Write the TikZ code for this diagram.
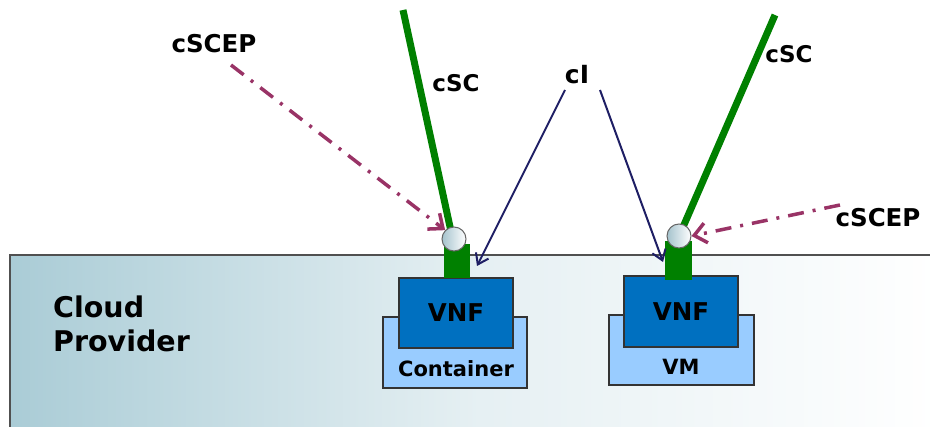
\documentclass[tikz,border=0pt]{standalone}
\usepackage{fontspec}
\setmainfont{DejaVu Sans}
\usetikzlibrary{arrows.meta}
\definecolor{vnfblue}{RGB}{0,112,192}
\definecolor{hostblue}{RGB}{153,204,255}
\definecolor{scgreen}{RGB}{0,128,0}
\definecolor{scepred}{RGB}{153,51,102}
\definecolor{cinavy}{RGB}{30,30,100}
\definecolor{cloudleft}{RGB}{170,204,214}
\definecolor{framegray}{RGB}{80,80,80}
\definecolor{balldark}{RGB}{165,195,205}
\begin{document}
\begin{tikzpicture}[x=1pt,y=-1pt,
	lbl/.style={font=\bfseries\fontsize{23}{27}\selectfont},
	hostbox/.style={draw=black!80, line width=1.2pt, fill=hostblue},
	vnfbox/.style={draw=black!80, line width=1.2pt, fill=vnfblue,
		font=\bfseries\fontsize{24.5}{28}\selectfont},
	green port/.style={fill=scgreen, inner sep=0pt},
	ball/.style={circle, draw=black!60, line width=1pt, inner sep=0pt,
		minimum size=24pt, left color=balldark, right color=white},
	sclink/.style={scgreen, line width=7pt},
	sceplink/.style={scepred, line width=3.5pt,
		dash pattern=on 16pt off 9pt on 3pt off 9pt,
		-{Straight Barb[length=12pt,width=20pt,line width=3.5pt]}},
	cilink/.style={cinavy, line width=2pt,
		-{Straight Barb[length=10pt,width=14pt,line width=2pt]}}]
	\useasboundingbox (0,0) rectangle (930,427);

	% Cloud provider
	\path[left color=cloudleft, right color=white, middle color=cloudleft!30]
		(10,255) rectangle (940,440);
	\draw[framegray, line width=2.5pt] (10,440) -- (10,255) -- (940,255);
	\node[font=\bfseries\fontsize{28.5}{34}\selectfont, align=left, anchor=north west,
		inner sep=0pt] (cloud) at (53,296) {Cloud\\Provider};

	% Container side
	\node[hostbox, minimum width=144pt, minimum height=71pt] (hostL) at (455,352.5) {};
	\node[font=\bfseries\fontsize{21}{24}\selectfont] (contL) at (456,369) {Container};
	\node[vnfbox, minimum width=114pt, minimum height=70pt] (vnfL) at (456,313) {VNF};
	\node[green port, minimum width=26pt, minimum height=34pt] (gpL) at (457,261) {};

	% VM side
	\node[hostbox, minimum width=145pt, minimum height=70pt] (hostR) at (681.5,350) {};
	\node[font=\bfseries\fontsize{21}{24}\selectfont] (vmR) at (681,367) {VM};
	\node[vnfbox, minimum width=114pt, minimum height=71pt] (vnfR) at (681,311.5) {VNF};
	\node[green port, minimum width=27pt, minimum height=39pt] (gpR) at (678.5,260.5) {};

	% cSC
	\coordinate (scLtop) at (403,10);
	\coordinate (scRtop) at (775,15);
	\node[lbl] (cscL) at (456,83) {cSC};
	\node[lbl] (cscR) at (789,54) {cSC};
	\draw[sclink] (scLtop) -- (452,236);
	\draw[sclink] (scRtop) -- (680,234);
	\node[ball] (cpL) at (454,239) {};
	\node[ball] (cpR) at (679,236) {};

	% cSCEP
	\node[lbl, font=\bfseries\fontsize{24.5}{28}\selectfont] (scepL) at (214,44) {cSCEP};
	\node[lbl, font=\bfseries\fontsize{24.5}{28}\selectfont] (scepR) at (878,218) {cSCEP};
	\coordinate (scepLtail) at (231,65);
	\coordinate (scepRtail) at (840,205);
	\draw[sceplink] (scepLtail) -- (cpL.north west);
	\draw[sceplink] (scepRtail) -- (cpR.east);

	% cI
	\node[lbl, font=\bfseries\fontsize{25}{28}\selectfont] (ci) at (577,75) {cI};
	\coordinate (ciLtail) at (565,90);
	\coordinate (ciRtail) at (600,90);
	\coordinate (ciLtip) at (477,266);
	\coordinate (ciRtip) at (663,262);
	\draw[cilink] (ciLtail) -- (ciLtip);
	\draw[cilink] (ciRtail) -- (ciRtip);
\end{tikzpicture}
\end{document}
